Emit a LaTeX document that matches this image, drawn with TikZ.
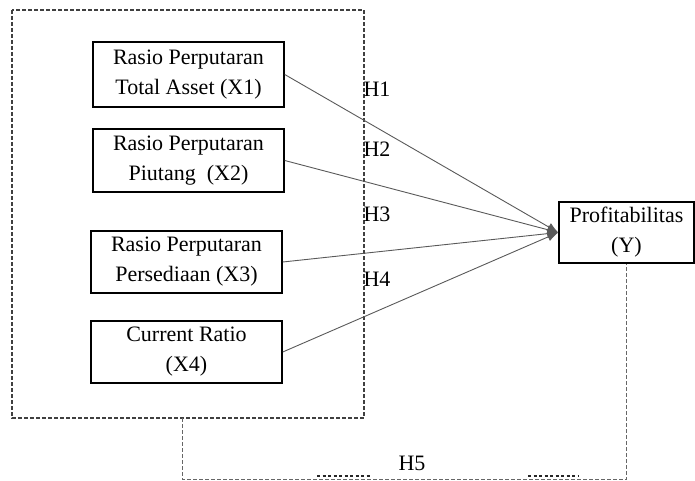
\documentclass[tikz,border=0pt]{standalone}
\usepackage{fontspec}
\setmainfont{Liberation Serif}
\usetikzlibrary{arrows.meta}
\tikzset{
	varbox/.style={draw, line width=1.5pt, align=center, inner sep=0pt,
		minimum width=191pt, minimum height=63pt,
		font=\fontsize{22}{30}\selectfont},
	hyplabel/.style={font=\fontsize{22}{26}\selectfont},
	effect/.style={draw=black!65, line width=0.9pt, -{Latex[length=11pt,width=9pt]}},
	groupline/.style={draw=black!75, line width=1.2pt, dash pattern=on 4pt off 2pt},
	dotpiece/.style={draw=black!85, line width=1.6pt, dash pattern=on 3pt off 2.5pt}
}
\begin{document}
\begin{tikzpicture}[x=1pt, y=-1pt]
	\useasboundingbox (0,0) rectangle (695,481);
	% Group of independent variables
	\coordinate (gtl) at (12,10);
	\coordinate (gbr) at (364,418);
	\draw [groupline] (gtl) rectangle (gbr);
	
	% Variables
	\node [varbox, minimum height=65pt] (x1) at (188.5,74.5) {Rasio Perputaran\\Total Asset (X1)};
	\node [varbox] (x2) at (188.5,160.5) {Rasio Perputaran\\ Piutang~ (X2)};
	\node [varbox, minimum height=62pt] (x3) at (186.5,262) {Rasio Perputaran\\Persediaan (X3)};
	\node [varbox, minimum height=62pt] (x4) at (186.5,352) {Current Ratio\\(X4)};
	\node [varbox, minimum width=135pt, minimum height=61pt] (y) at (626.5,232.5) {Profitabilitas\\(Y)};
	
	% Hypotheses
	\node [hyplabel] (h1) at (377,89) {H1};
	\node [hyplabel] (h2) at (377,149) {H2};
	\node [hyplabel] (h3) at (377,214) {H3};
	\node [hyplabel] (h4) at (377,279) {H4};
	\node [hyplabel] (h5) at (412,463) {H5};
	
	% Partial effects
	\draw [effect] (x1.east) -- (y.west);
	\draw [effect] (x2.east) -- (y.west);
	\draw [effect] (x3.east) -- (y.west);
	\draw [effect] (x4.east) -- (y.west);
	
	% Simultaneous effect
	\coordinate (gb) at (182,418);
	\coordinate (c1) at (182,479);
	\coordinate (c2) at (y.south |- c1);
	\draw [groupline, draw=black!60, line width=0.9pt] (gb) -- (c1) -- (c2) -- (y.south);
	\draw [dotpiece] (317,476) -- (370,476);
	\draw [dotpiece] (528,476) -- (578,476);
	
\end{tikzpicture}
\end{document}
